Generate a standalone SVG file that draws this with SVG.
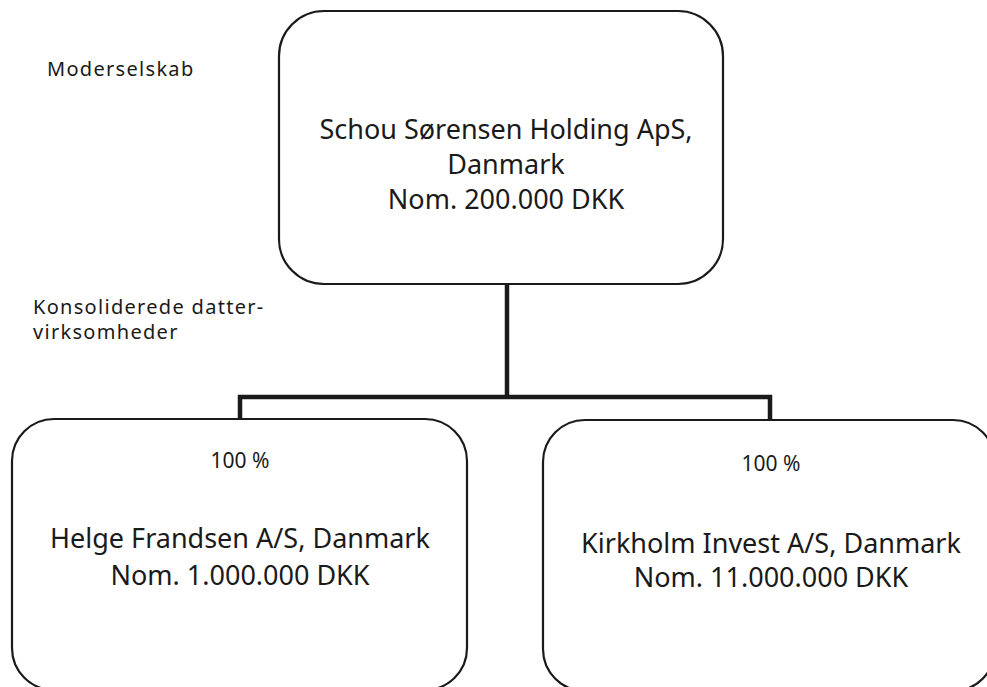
<svg xmlns="http://www.w3.org/2000/svg" width="987" height="687" viewBox="0 0 987 687">
<style>
.box{fill:#fff;stroke:#1a1a1a;stroke-width:2.2}
.conn{fill:none;stroke:#1a1a1a;stroke-width:4.5;stroke-linejoin:miter}
text{font-family:"Noto Sans","DejaVu Sans",sans-serif;fill:#1a1a1a}
.big{font-size:27px;text-anchor:middle}
.pct{font-size:21px;text-anchor:middle}
.lbl{font-size:20px;letter-spacing:1.3px}
</style>
<rect width="987" height="687" fill="#fff"/>
<g id="labels">
<text class="lbl" x="47" y="76">Moderselskab</text>
<text class="lbl" x="33" y="314">Konsoliderede datter-</text>
<text class="lbl" x="33" y="339">virksomheder</text>
</g>
<g id="connectors">
<path class="conn" d="M507,284 V397"/>
<path class="conn" d="M240,420 V397 H770 V420"/>
</g>
<g id="node-parent">
<rect class="box" x="279" y="11" width="444" height="273" rx="45" ry="45"/>
<text class="big" x="506" y="139">Schou Sørensen Holding ApS,</text>
<text class="big" x="506" y="174">Danmark</text>
<text class="big" x="506" y="209">Nom. 200.000 DKK</text>
</g>
<g id="node-helge">
<rect class="box" x="12" y="419" width="455" height="271" rx="42" ry="42"/>
<text class="pct" x="240" y="468">100 %</text>
<text class="big" x="240" y="548">Helge Frandsen A/S, Danmark</text>
<text class="big" x="240" y="585">Nom. 1.000.000 DKK</text>
</g>
<g id="node-kirkholm">
<rect class="box" x="543" y="420" width="452" height="271" rx="42" ry="42"/>
<text class="pct" x="771" y="471">100 %</text>
<text class="big" x="771" y="553">Kirkholm Invest A/S, Danmark</text>
<text class="big" x="771" y="587">Nom. 11.000.000 DKK</text>
</g>
</svg>
